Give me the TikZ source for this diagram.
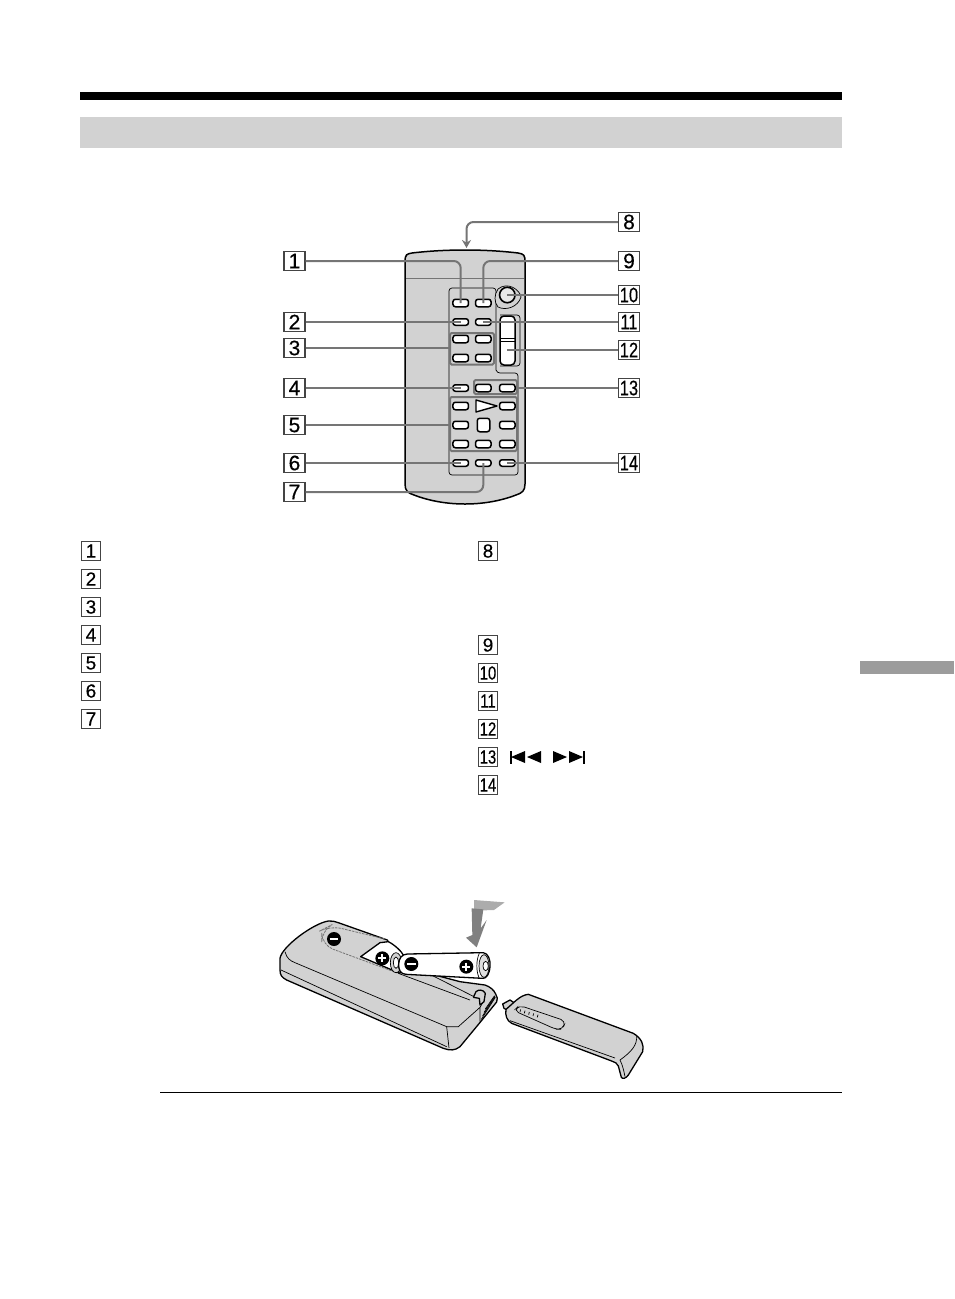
\documentclass[tikz,border=0pt]{standalone}
\usepackage{fontspec}
\usepackage{graphicx}
\setmainfont[FakeBold=0.4]{Liberation Sans}
\usetikzlibrary{arrows.meta}
\definecolor{panelgray}{HTML}{D2D2D2}
\definecolor{tabgray}{HTML}{9C9C9C}
\definecolor{connector}{HTML}{757575}
\definecolor{boxline}{HTML}{444444}
\tikzset{
  numbig/.style={draw=boxline,line width=1.2pt,fill=white,minimum width=21pt,minimum height=19.5pt,inner sep=0pt,font=\fontsize{21}{21}\selectfont},
  numsmall/.style={draw=boxline,line width=1pt,fill=white,minimum width=18.5pt,minimum height=18.5pt,inner sep=0pt,font=\fontsize{19}{19}\selectfont},
  btn/.style={draw=black,line width=1.5pt,fill=white,rounded corners=2.5pt,minimum width=15.5pt,minimum height=7.5pt,inner sep=0pt},
  btnsmall/.style={btn,minimum height=6.5pt},
  conn/.style={draw=connector,line width=2pt,rounded corners=7pt},
  grp/.style={draw=connector,line width=2pt,rounded corners=1.5pt},
  thinl/.style={draw=black,line width=0.7pt},
  outl/.style={draw=black,line width=1.3pt,line join=round},
  sign/.style={circle,fill=black,minimum size=14pt,inner sep=0pt}
}
\newcommand{\nn}[1]{\scalebox{0.78}[1]{#1}}
\begin{document}
\begin{tikzpicture}[x=1pt,y=-1pt]
\useasboundingbox (0,0) rectangle (954,1299);
% page furniture
\fill[black] (80,92) rectangle (842,100);
\fill[panelgray] (80,117) rectangle (842,148);
\fill[tabgray] (860,661) rectangle (954,674);
\draw[black,line width=0.9pt] (160,1092) -- (842,1092);

% remote body
\draw[fill=panelgray,draw=black,line width=1.5pt]
  (405,262) .. controls (405,254) and (407,254) .. (412,253)
  .. controls (445,249) and (485,249) .. (518,253)
  .. controls (524,254) and (525,255) .. (525,262)
  -- (525,484) .. controls (525,491) and (522,493) .. (516,495)
  .. controls (485,507) and (445,507) .. (414,495)
  .. controls (408,493) and (405,491) .. (405,484) -- cycle;
\draw[connector,line width=0.8pt] (406,278) -- (524,278);
% panel outline
\draw[thinl,rounded corners=3pt] (449,288) -- (496,288) -- (496,367)
  .. controls (496,372) and (499,373) .. (503,373) -- (518,373) -- (518,475) -- (449,475) -- cycle;
% rocker surrounds
\draw[thinl,fill=panelgray] (498,289) .. controls (508,281) and (520,290) .. (521,297)
  .. controls (518,307) and (506,311) .. (498,307) .. controls (494,302) and (494,295) .. (498,289) -- cycle;
\draw[thinl,rounded corners=3pt] (500,315) -- (520,315) -- (520,366) -- (500,366);
% groups
\draw[grp] (450,333) rectangle (494,364.5);
\draw[grp] (474,380) rectangle (517,394);
\draw[grp] (450,397) rectangle (517,451);
% rocker + buttons
\node[circle,draw=black,line width=1.6pt,fill=panelgray!50!white,minimum size=15.5pt,inner sep=0pt] (b10) at (507.3,295) {};
\draw[black,line width=1.5pt,fill=white,rounded corners=4pt] (500,316) rectangle (515,365);
\draw[black,line width=0.9pt] (500,338) -- (515,338);
\draw[black,line width=0.5pt] (500,341) -- (515,341);
\coordinate (b12) at (507.3,350);
\node[btn] (b1) at (460.7,303) {};
\node[btn] (b9) at (483.3,303) {};
\node[btnsmall] (b2) at (460.7,322) {};
\node[btnsmall] (b11) at (483.3,322) {};
\node[btn] at (460.7,339) {};
\node[btn] at (483.3,339) {};
\node[btn] at (460.7,358) {};
\node[btn] at (483.3,358) {};
\node[btnsmall] (b4) at (460.7,388) {};
\node[btn] at (483.3,388) {};
\node[btn] at (507.3,388) {};
\node[btn] at (460.7,406) {};
\node[btn] at (507.3,406) {};
\draw[black,line width=1.4pt,fill=white,line join=round] (476,400) -- (497,406) -- (476,412) -- cycle;
\node[btn] at (460.7,425) {};
\node[draw=black,line width=1.5pt,fill=white,rounded corners=2.5pt,minimum width=12.5pt,minimum height=13.5pt,inner sep=0pt] at (483.5,425) {};
\node[btn] at (507.3,425) {};
\node[btn] at (460.7,444) {};
\node[btn] at (483.3,444) {};
\node[btn] at (507.3,444) {};
\node[btnsmall] (b6) at (460.7,463) {};
\node[btnsmall] (b7) at (483.3,463) {};
\node[btnsmall] (b14) at (507.3,463) {};
\coordinate (g3) at (450,348);
\coordinate (g5) at (450,425);
\coordinate (g13) at (517,388);
\coordinate (a8) at (466.5,248);

% callout labels
\node[numbig] (l1) at (294.5,261) {1};
\node[numbig] (l2) at (294.5,322) {2};
\node[numbig] (l3) at (294.5,348) {3};
\node[numbig] (l4) at (294.5,388) {4};
\node[numbig] (l5) at (294.5,425) {5};
\node[numbig] (l6) at (294.5,463) {6};
\node[numbig] (l7) at (294.5,492) {7};
\node[numbig] (l8) at (629,222) {8};
\node[numbig] (l9) at (629,261) {9};
\node[numbig] (l10) at (629,295) {\nn{10}};
\node[numbig] (l11) at (629,322) {\nn{11}};
\node[numbig] (l12) at (629,350) {\nn{12}};
\node[numbig] (l13) at (629,388) {\nn{13}};
\node[numbig] (l14) at (629,463) {\nn{14}};

% connectors
\draw[conn] (l1.east) -| (b1.center);
\draw[conn] (l2.east) -- (b2.center);
\draw[conn] (l3.east) -- (g3);
\draw[conn] (l4.east) -- (b4.center);
\draw[conn] (l5.east) -- (g5);
\draw[conn] (l6.east) -- (b6.center);
\draw[conn] (l7.east) -| (b7.center);
\draw[conn,-{Stealth[length=8pt,width=9pt]}] (l8.west) -| (a8);
\draw[conn] (l9.west) -| (b9.center);
\draw[conn] (l10.west) -- (b10.center);
\draw[conn] (l11.west) -- (b11.center);
\draw[conn] (l12.west) -- (b12);
\draw[conn] (l13.west) -- (g13);
\draw[conn] (l14.west) -- (b14.center);

% numbered list
\node[numsmall] (k1) at (91,551) {1};
\node[numsmall] (k2) at (91,579) {2};
\node[numsmall] (k3) at (91,607) {3};
\node[numsmall] (k4) at (91,635) {4};
\node[numsmall] (k5) at (91,663) {5};
\node[numsmall] (k6) at (91,691) {6};
\node[numsmall] (k7) at (91,719) {7};
\node[numsmall] (k8) at (488,551) {8};
\node[numsmall] (k9) at (488,645) {9};
\node[numsmall] (k10) at (488,673) {\nn{10}};
\node[numsmall] (k11) at (488,701) {\nn{11}};
\node[numsmall] (k12) at (488,729) {\nn{12}};
\node[numsmall] (k13) at (488,757) {\nn{13}};
\node[numsmall] (k14) at (488,785) {\nn{14}};
% skip icons
\fill[black] (509.5,750.5) rectangle (511.5,763.5);
\fill[black] (511,757) -- (525,751) -- (525,763) -- cycle;
\fill[black] (527,757) -- (541,751) -- (541,763) -- cycle;
\fill[black] (553,751) -- (567,757) -- (553,763) -- cycle;
\fill[black] (569,751) -- (583,757) -- (569,763) -- cycle;
\fill[black] (583,750.5) rectangle (585,763.5);

% battery illustration
\begin{scope}[shift={(270,890)},x=0.33333pt,y=-0.33333pt]
  % main body including gray compartment
  \draw[outl,fill=panelgray]
    (30,205) .. controls (35,170) and (130,100) .. (175,93)
    .. controls (185,92) and (195,94) .. (205,98)
    -- (352,150) -- (400,230) -- (570,275) -- (645,285)
    .. controls (660,290) and (672,300) .. (677,312)
    .. controls (682,320) and (684,328) .. (680,336)
    -- (632,395) -- (570,470) .. controls (555,482) and (540,482) .. (520,475)
    -- (50,270) .. controls (35,262) and (30,255) .. (30,240) -- cycle;
  % end-face hatching
  \foreach \o in {0,8,16,24} \draw[thinl] (634+\o*0.5,388-\o*1.3) -- (676-\o*0.1,322-\o*0.2);
  % face lines
  \draw[thinl] (33,240) -- (530,470);
  \draw[thinl] (45,185) .. controls (50,205) and (60,212) .. (75,218) -- (530,410) -- (537,474);
  \draw[thinl] (530,410) -- (565,410) -- (630,352) -- (630,395);
  \draw[thinl] (640,335) -- (630,352);
  % compartment lines and catch
  \draw[thinl] (385,250) -- (600,330);
  \draw[thinl] (470,248) -- (612,320);
  \draw[outl,fill=panelgray] (610,322) -- (618,305) .. controls (625,298) and (640,298) .. (646,310) -- (642,335) -- (630,345) -- (628,325) -- (610,322);
  % dashed moulded outline
  \draw[connector,line width=0.8pt,dash pattern=on 2.5pt off 1pt,rounded corners=12pt] (345,147) -- (180,107) -- (155,120) -- (155,165) -- (385,250);
  \node[sign] (minusA) at (192,147) {};
  \draw[white,line width=1.8pt] (minusA.center) ++(-13,0) -- ++(26,0);
  % opening with first battery
  \draw[outl,fill=white] (272,200) -- (330,158) -- (355,155) .. controls (375,165) and (395,185) .. (400,195) -- (390,250) -- cycle;
  \draw[thinl,fill=panelgray] (378,218) ellipse [x radius=17,y radius=30];
  \draw[thinl,fill=white] (378,218) ellipse [x radius=8,y radius=17];
  \node[sign] (plusA) at (337,205) {};
  \draw[white,line width=1.8pt] (plusA.center) ++(-12,0) -- ++(24,0) (plusA.center) ++(0,-12) -- ++(0,24);
  % loose battery
  \draw[outl,fill=white] (412,192) -- (640,188)
     .. controls (655,190) and (662,210) .. (660,230)
     .. controls (658,252) and (650,266) .. (638,265)
     -- (408,253) .. controls (392,252) and (385,240) .. (386,222)
     .. controls (387,205) and (395,193) .. (412,192) -- cycle;
  \draw[thinl,fill=panelgray!70!white] (642,228) ellipse [x radius=15,y radius=34];
  \draw[thinl,fill=white] (647,228) ellipse [x radius=8,y radius=14];
  \draw[thinl] (628,190) .. controls (618,210) and (618,245) .. (628,265);
  \node[sign] (minusB) at (424,222) {};
  \draw[white,line width=1.8pt] (minusB.center) ++(-13,0) -- ++(26,0);
  \node[sign] (plusB) at (589,230) {};
  \draw[white,line width=1.8pt] (plusB.center) ++(-12,0) -- ++(24,0) (plusB.center) ++(0,-12) -- ++(0,24);
  % insertion arrow
  \fill[gray!65!white] (612,30) -- (704,37) -- (672,60) -- (612,62) -- cycle;
  \fill[gray] (605,55) -- (640,58) -- (632,115) -- (650,90) -- (620,172) -- (588,143) -- (607,135) -- cycle;
  % cover
  \begin{scope}[shift={(690,300)}]
    \draw[outl,fill=panelgray] (8,42) -- (30,30) -- (42,38) -- (25,62) -- (12,55) -- cycle;
    \draw[outl,fill=panelgray] (18,58) .. controls (40,40) and (60,15) .. (85,13)
       -- (400,130) .. controls (425,145) and (433,165) .. (428,185)
       -- (385,255) .. controls (378,265) and (368,268) .. (364,262)
       -- (355,228) .. controls (352,220) and (345,216) .. (335,213)
       -- (35,100) .. controls (20,92) and (15,75) .. (18,58) -- cycle;
    \draw[thinl] (30,92) -- (345,204);
    \draw[thinl] (410,137) .. controls (412,165) and (395,185) .. (360,210) .. controls (368,225) and (372,245) .. (375,260);
    \draw[thinl,rounded corners=5pt] (42,62) -- (58,46) -- (197,93) -- (188,118) -- (168,118) -- cycle;
    \foreach \i in {0,1,2,3,4} \draw[thinl] (62+\i*13,58+\i*4) -- (60+\i*13,66+\i*4);
  \end{scope}
\end{scope}
\end{tikzpicture}
\end{document}
